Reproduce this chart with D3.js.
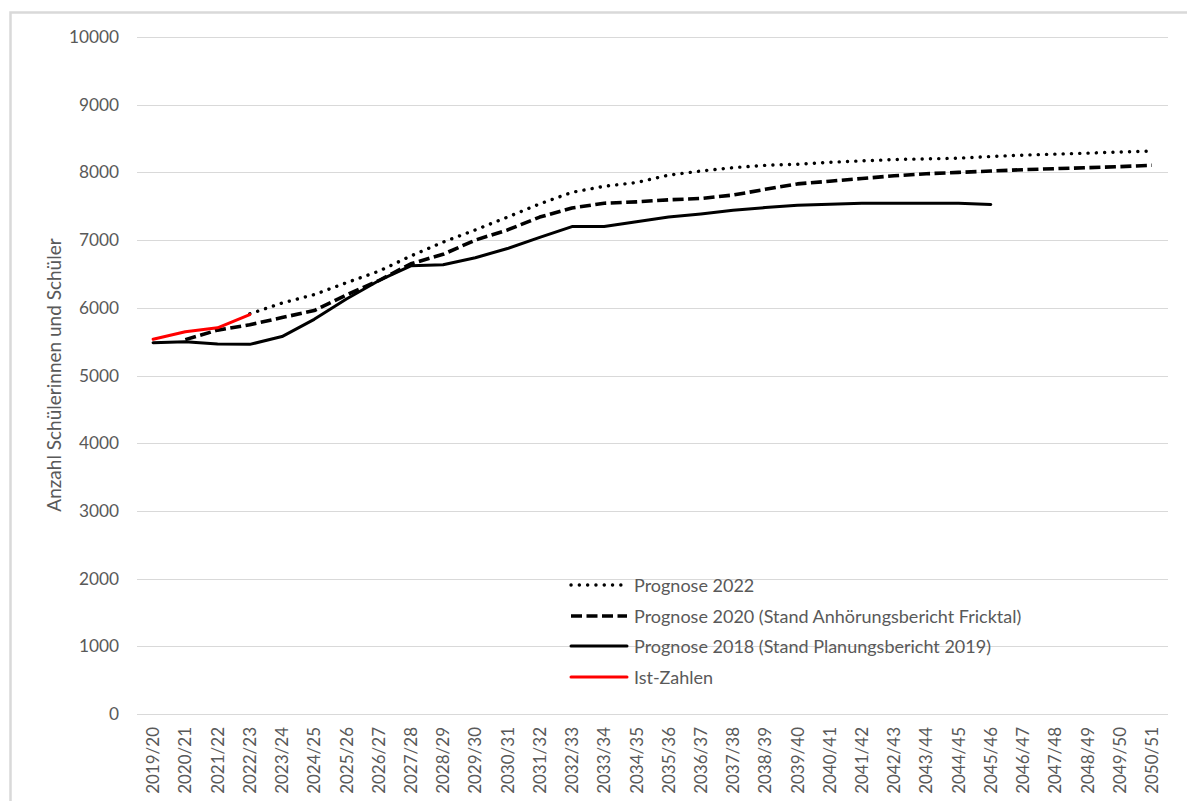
<!DOCTYPE html>
<html>
<head>
<meta charset="utf-8">
<script src="https://cdn.jsdelivr.net/npm/d3@7"></script>
<style>
  html, body { margin: 0; padding: 0; background: #fff; }
  svg { display: block; }
  text { font-family: Lato, "Open Sans", sans-serif; fill: #595959; }
</style>
</head>
<body>
<svg id="chart" width="1187" height="801"></svg>
<script>
// School years on the x axis
const years = [
  "2019/20","2020/21","2021/22","2022/23","2023/24","2024/25","2025/26","2026/27",
  "2027/28","2028/29","2029/30","2030/31","2031/32","2032/33","2033/34","2034/35",
  "2035/36","2036/37","2037/38","2038/39","2039/40","2040/41","2041/42","2042/43",
  "2043/44","2044/45","2045/46","2046/47","2047/48","2048/49","2049/50","2050/51"
];

// Pupil counts per forecast (null = no value for that year)
const prognose2022 = [
  null, null, null, 5910, 6070, 6195, 6370, 6540,
  6765, 6970, 7150, 7340, 7535, 7705, 7795, 7850,
  7960, 8020, 8070, 8105, 8120, 8150, 8170, 8190,
  8200, 8210, 8235, 8255, 8270, 8285, 8300, 8315
];
const prognose2020 = [
  null, 5530, 5670, 5750, 5855, 5960, 6190, 6400,
  6650, 6790, 7000, 7150, 7340, 7475, 7545, 7565,
  7595, 7615, 7665, 7750, 7830, 7870, 7910, 7950,
  7980, 8000, 8020, 8040, 8055, 8070, 8085, 8105
];
const prognose2018 = [
  5485, 5500, 5465, 5460, 5575, 5830, 6130, 6400,
  6620, 6635, 6740, 6875, 7040, 7200, 7200, 7270,
  7340, 7385, 7440, 7480, 7515, 7530, 7545, 7545,
  7545, 7545, 7525, null, null, null, null, null
];
const istZahlen = [
  5535, 5645, 5705, 5900, null, null, null, null,
  null, null, null, null, null, null, null, null,
  null, null, null, null, null, null, null, null,
  null, null, null, null, null, null, null, null
];

const yTicks = [0, 1000, 2000, 3000, 4000, 5000, 6000, 7000, 8000, 9000, 10000];
const yTitle = "Anzahl Schülerinnen und Schüler";

const seriesNames = [
  "Prognose 2022",
  "Prognose 2020 (Stand Anhörungsbericht Fricktal)",
  "Prognose 2018 (Stand Planungsbericht 2019)",
  "Ist-Zahlen"
];

const svg = d3.select("#chart");

// Outer chart frame (extends past the right and bottom edges)
svg.append("rect")
  .attr("x", 10.5).attr("y", 12.5)
  .attr("width", 1300).attr("height", 900)
  .attr("fill", "none")
  .attr("stroke", "#d9d9d9")
  .attr("stroke-width", 2.5);

const x = d3.scaleBand().domain(years).range([137, 1168]);
const y = d3.scaleLinear().domain([0, 10000]).range([714, 37]);

// Horizontal gridlines
svg.append("g")
  .selectAll("line")
  .data(yTicks)
  .join("line")
  .attr("x1", 137).attr("x2", 1168)
  .attr("y1", d => Math.round(y(d)) + 0.5)
  .attr("y2", d => Math.round(y(d)) + 0.5)
  .attr("stroke", "#d9d9d9")
  .attr("stroke-width", 1.2);

// Y axis labels
const yAxis = d3.axisLeft(y).tickValues(yTicks).tickSize(0).tickPadding(0).tickFormat(d3.format("d"));
const gy = svg.append("g").attr("transform", "translate(119,0)").call(yAxis);
gy.select(".domain").remove();
gy.selectAll("text")
  .attr("font-family", "Lato, sans-serif")
  .attr("font-size", 17.3)
  .attr("fill", "#595959");

// X axis labels, rotated
const xAxis = d3.axisBottom(x).tickSize(0).tickPadding(0);
const gx = svg.append("g").attr("transform", "translate(0,727)").call(xAxis);
gx.select(".domain").remove();
gx.selectAll("text")
  .attr("font-family", "Lato, sans-serif")
  .attr("font-size", 17)
  .attr("fill", "#595959")
  .attr("text-anchor", "end")
  .attr("transform", "rotate(-90)")
  .attr("x", 0)
  .attr("y", 0)
  .attr("dy", "0.36em");

// Y axis title
svg.append("text")
  .attr("transform", "translate(53,375) rotate(-90)")
  .attr("text-anchor", "middle")
  .attr("dominant-baseline", "central")
  .attr("font-size", 19)
  .text(yTitle);

// Series lines
const line = d3.line()
  .defined(d => d != null)
  .x((d, i) => x(years[i]) + x.bandwidth() / 2)
  .y(d => y(d));

const styles = [
  { data: prognose2022, color: "#000", width: 3.4, dash: "0.1,8.2", cap: "round" },
  { data: prognose2020, color: "#000", width: 3.6, dash: "11,4.5", cap: "butt" },
  { data: prognose2018, color: "#000", width: 3, dash: null, cap: "round" },
  { data: istZahlen, color: "#ff0000", width: 3, dash: null, cap: "round" }
];

styles.forEach(s => {
  svg.append("path")
    .datum(s.data)
    .attr("d", line)
    .attr("fill", "none")
    .attr("stroke", s.color)
    .attr("stroke-width", s.width)
    .attr("stroke-linejoin", "round")
    .attr("stroke-linecap", s.cap)
    .attr("stroke-dasharray", s.dash);
});

// Legend
const legendRows = [585, 616, 646, 677];
const legend = svg.append("g");
seriesNames.forEach((name, i) => {
  const s = styles[i];
  legend.append("line")
    .attr("x1", 571).attr("x2", 627)
    .attr("y1", legendRows[i]).attr("y2", legendRows[i])
    .attr("stroke", s.color)
    .attr("stroke-width", s.width)
    .attr("stroke-linecap", s.cap)
    .attr("stroke-dasharray", s.dash);
  legend.append("text")
    .attr("x", 634)
    .attr("y", legendRows[i])
    .attr("dominant-baseline", "central")
    .attr("font-size", 18)
    .text(name);
});
</script>
</body>
</html>
